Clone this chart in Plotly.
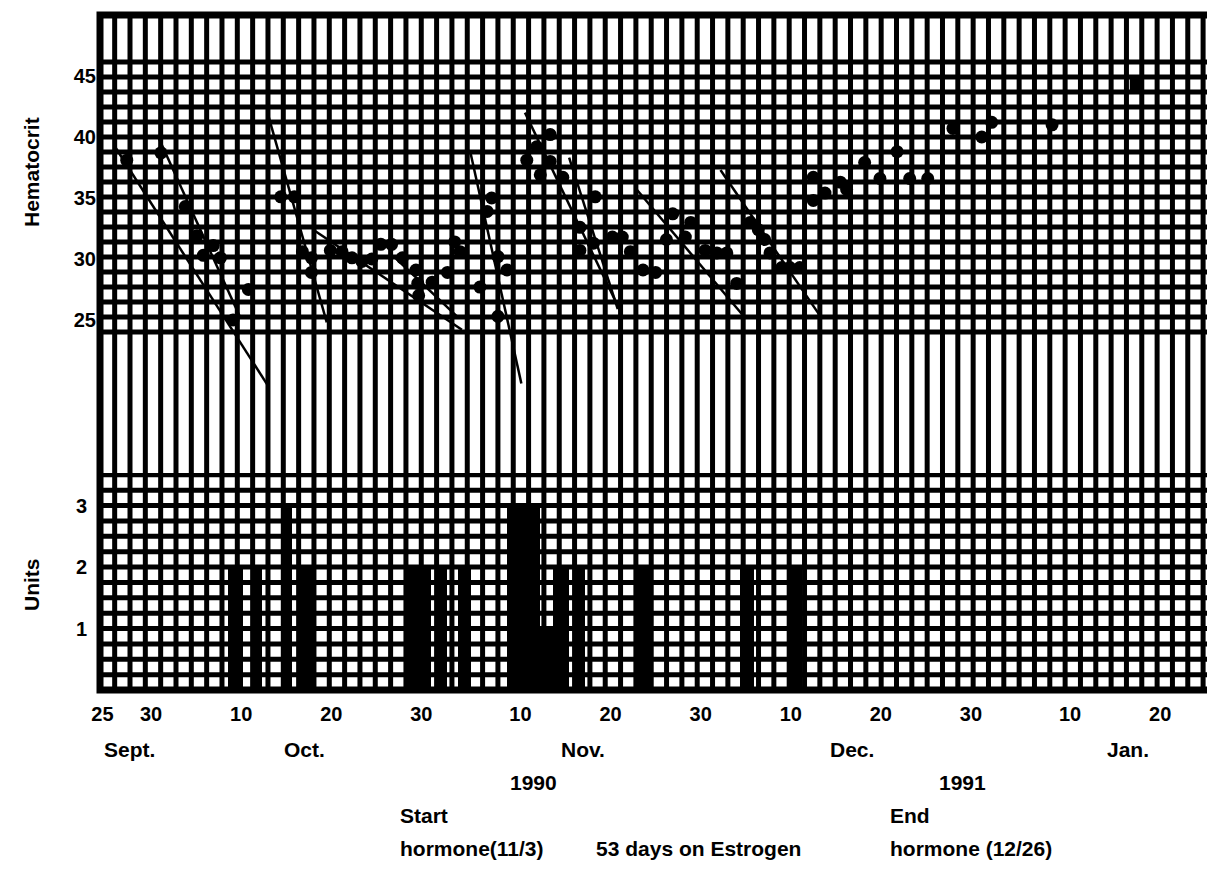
import plotly.graph_objects as go

# ---------------- DATA (day 0 = Sept 25, 1990) ----------------
hct_day = [2.3, 6.1, 8.8, 10.1, 10.8, 11.9, 12.7, 14.1, 15.8,
           19.4, 20.9, 21.8, 22.8, 22.8, 24.9, 26.2, 27.3, 28.4, 29.5, 30.5, 31.7, 32.9,
           34.4, 34.6, 34.7, 36.2, 37.9, 38.7, 39.3, 41.5, 42.3, 42.8, 43.5, 44.5, 43.5,
           46.7, 47.8, 49.3, 49.3, 48.2, 50.7, 52.6, 52.6, 54.1, 54.3, 56.2, 57.3, 58.2,
           59.6, 61.0, 62.2, 62.9, 64.9, 64.3, 66.5, 67.8, 68.9, 70.0, 71.5, 72.4, 73.1,
           73.7, 75.0, 75.9, 77.0, 78.5, 78.5, 79.8, 81.5, 82.2, 84.2, 85.9, 87.8, 89.2,
           91.2, 94.0, 97.2, 98.3, 105.0]
hct_val = [38.1, 38.7, 34.3, 31.9, 30.3, 31.1, 30.1, 25.0, 27.5,
           35.1, 35.1, 30.6, 30.1, 28.9, 30.7, 30.6, 30.1, 29.8, 30.0, 31.2, 31.2, 30.1,
           29.1, 28.0, 27.0, 28.1, 28.9, 31.4, 30.6, 27.7, 33.9, 35.0, 30.2, 29.1, 25.3,
           38.1, 39.2, 40.2, 38.0, 36.9, 36.7, 32.6, 30.7, 31.3, 35.1, 31.8, 31.8, 30.6,
           29.1, 28.9, 31.6, 33.7, 33.0, 31.8, 30.7, 30.5, 30.5, 28.0, 33.0, 32.4, 31.6,
           30.5, 29.3, 29.3, 29.3, 36.7, 34.8, 35.4, 36.3, 35.7, 37.9, 36.6, 38.8, 36.6,
           36.6, 40.7, 40.0, 41.2, 41.0]
last_day = [114.4]
last_val = [44.3]

# regression / trend segments drawn on the original
trend_day_start = [1.0, 5.8, 18.0, 23.0, 32.1, 40.4, 46.5, 51.4, 58.9, 68.2]
trend_val_start = [39.2, 40.0, 41.8, 32.4, 30.1, 38.9, 42.0, 38.3, 35.7, 37.3]
trend_day_end = [17.9, 14.9, 24.5, 39.5, 39.1, 46.1, 57.1, 56.8, 70.9, 79.2]
trend_val_end = [19.7, 25.2, 24.8, 24.2, 25.2, 19.8, 25.7, 25.9, 25.2, 25.4]

# transfusions: start day, end day, units
tx_start_day = [13.5, 16.1, 19.6, 21.5, 33.4, 36.7, 39.1, 44.5, 48.2, 49.6, 51.8, 59.0, 70.4, 75.7]
tx_end_day = [15.2, 17.3, 20.6, 23.1, 36.1, 37.8, 40.5, 48.2, 49.6, 51.4, 53.2, 60.6, 71.9, 77.3]
tx_units = [2, 2, 3, 2, 2, 2, 2, 3, 1, 2, 2, 2, 2, 2]

date_tick_days = [-0.4, 5, 15, 25, 35, 46, 56, 66, 76, 86, 96, 107, 117]
date_tick_text = ["25", "30", "10", "20", "30", "10", "20", "30", "10", "20", "30", "10", "20"]
hct_ticks = [25, 30, 35, 40, 45]
unit_ticks = [1, 2, 3]
month_labels = ["Sept.", "Oct.", "Nov.", "Dec.", "Jan."]
year_labels = ["1990", "1991"]

# ---------------- LAYOUT GEOMETRY (page pixel coordinates) ----------------
PAGE_OFF = 8                      # browser body margin
PAGE_W, PAGE_H = 1215, 875
PLOT_X0, PLOT_X1, PLOT_Y0, PLOT_Y1 = 100, 1213, 15, 690
W, H = PAGE_W - PAGE_OFF, PAGE_H - PAGE_OFF
L, T = PLOT_X0 - PAGE_OFF, PLOT_Y0 - PAGE_OFF
R, B = W - (PLOT_X1 - PAGE_OFF), H - (PLOT_Y1 - PAGE_OFF)
PW, PH = PLOT_X1 - PLOT_X0, PLOT_Y1 - PLOT_Y0
X0PX, PX_PER_DAY = 106.0, 9.01           # pixel of day 0, pixels per day
HCT40_PX, PX_PER_HCT = 137.0, 12.2       # pixel of hematocrit 40
UNIT0_PX, PX_PER_UNIT = 690.0, 61.5
GAP_PX = 473.0                            # boundary between panels


def px2day(px):
    return (px - X0PX) / PX_PER_DAY


def py2hct(py):
    return 40 - (py - HCT40_PX) / PX_PER_HCT


def px2paper(px):
    return (px - PLOT_X0) / PW


def py2paper(py):
    return (PLOT_Y1 - py) / PH


split = py2paper(GAP_PX)
FONT = "Liberation Sans, Arial, sans-serif"
INK = "black"
GRID_W = 5
FS = 21
TICK_FS = 20

fig = go.Figure()

# transfusion bars
fig.add_trace(go.Bar(
    x=[(a + b) / 2 for a, b in zip(tx_start_day, tx_end_day)],
    width=[b - a for a, b in zip(tx_start_day, tx_end_day)],
    y=tx_units, marker=dict(color=INK, line=dict(width=0)),
    xaxis="x", yaxis="y", showlegend=False, hoverinfo="skip"))

# trend lines
tx_, ty_ = [], []
for a, b, c, d in zip(trend_day_start, trend_val_start, trend_day_end, trend_val_end):
    tx_ += [a, c, None]
    ty_ += [b, d, None]
fig.add_trace(go.Scatter(x=tx_, y=ty_, mode="lines", line=dict(color=INK, width=2.5),
                         xaxis="x2", yaxis="y2", showlegend=False, hoverinfo="skip"))

# hematocrit points
fig.add_trace(go.Scatter(x=hct_day, y=hct_val, mode="markers",
                         marker=dict(color=INK, size=13, symbol="circle"),
                         xaxis="x2", yaxis="y2", showlegend=False))
fig.add_trace(go.Scatter(x=last_day, y=last_val, mode="markers",
                         marker=dict(color=INK, size=14, symbol="square"),
                         xaxis="x2", yaxis="y2", showlegend=False))

shapes = []
# vertical grid (graph paper) over whole plot
k = 0
while True:
    px = 114.67 + 15.33 * k
    if px > 1206:
        break
    d = px2day(px)
    shapes.append(dict(type="line", xref="x", yref="paper", x0=d, x1=d, y0=0, y1=1,
                       line=dict(color=INK, width=GRID_W), layer="below"))
    k += 1
# horizontal grid in hematocrit panel
for k in range(19):
    v = py2hct(62 + 15 * k)
    shapes.append(dict(type="line", xref="paper", yref="y2", x0=0, x1=1, y0=v, y1=v,
                       line=dict(color=INK, width=GRID_W), layer="below"))
# horizontal grid in units panel
for k in range(1, 15):
    u = 0.25 * k
    shapes.append(dict(type="line", xref="paper", yref="y", x0=0, x1=1, y0=u, y1=u,
                       line=dict(color=INK, width=GRID_W), layer="below"))
# frame
shapes.append(dict(type="rect", xref="paper", yref="paper", x0=0, x1=1, y0=0, y1=1,
                   line=dict(color=INK, width=7), fillcolor="rgba(0,0,0,0)", layer="above"))


def label(text, px, py, anchor="center", angle=0):
    return dict(text="<b>%s</b>" % text, x=px2paper(px), y=py2paper(py), xref="paper",
                yref="paper", xanchor=anchor, yanchor="middle", textangle=angle,
                showarrow=False, font=dict(size=FS, family=FONT, color=INK))


annotations = []
for m, px in zip(month_labels, [129, 304, 583, 852, 1128]):
    annotations.append(label(m, px, 750))
for yl, px in zip(year_labels, [533, 962]):
    annotations.append(label(yl, px, 782))
for txt, px, py in [("Start", 398, 815), ("hormone(11/3)", 398, 848),
                    ("53 days on Estrogen", 594, 848), ("End", 888, 815),
                    ("hormone (12/26)", 888, 848)]:
    annotations.append(label(txt, px, py, anchor="left"))
annotations.append(label("Hematocrit", 31, 172, angle=-90))
annotations.append(label("Units", 31, 585, angle=-90))

xr = [px2day(PLOT_X0), px2day(PLOT_X1)]
tickfont = dict(size=TICK_FS, family=FONT, color=INK, weight="bold")
fig.update_layout(
    width=W, height=H, margin=dict(l=L, r=R, t=T, b=B, autoexpand=False),
    paper_bgcolor="white", plot_bgcolor="white", bargap=0,
    font=dict(family=FONT, size=FS, color=INK),
    xaxis=dict(domain=[0, 1], range=xr, anchor="y", showgrid=False, zeroline=False,
               automargin=False, tickmode="array", tickvals=date_tick_days,
               ticktext=date_tick_text, ticks="", ticklabelstandoff=10, tickfont=tickfont),
    xaxis2=dict(domain=[0, 1], range=xr, anchor="y2", matches="x", showgrid=False,
                automargin=False, zeroline=False, showticklabels=False),
    yaxis=dict(domain=[0, split], range=[0, (UNIT0_PX - GAP_PX) / PX_PER_UNIT],
               automargin=False, showgrid=False, zeroline=False, tickmode="array",
               tickvals=unit_ticks, ticks="", ticklabelstandoff=12, tickfont=tickfont),
    yaxis2=dict(domain=[split, 1], range=[py2hct(GAP_PX), py2hct(PLOT_Y0)],
                automargin=False, showgrid=False, zeroline=False, tickmode="array",
                tickvals=hct_ticks, ticks="", ticklabelstandoff=3, tickfont=tickfont),
    shapes=shapes, annotations=annotations,
)

fig.write_html("out.html")
